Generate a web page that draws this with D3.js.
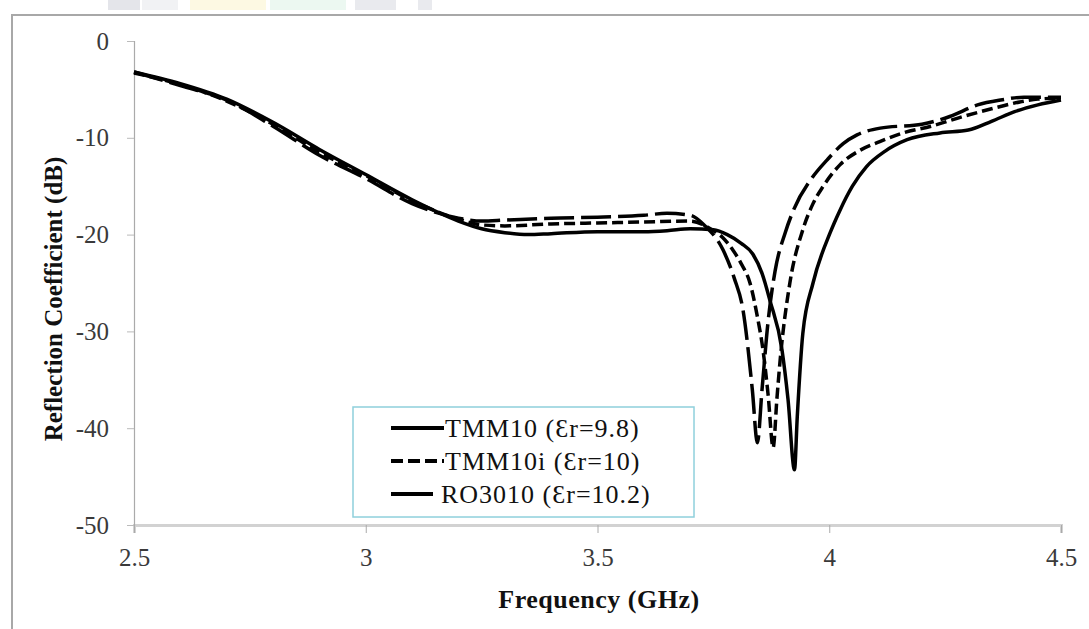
<!DOCTYPE html>
<html>
<head>
<meta charset="utf-8">
<script src="https://cdn.jsdelivr.net/npm/d3@7"></script>
<style>
  body { margin: 0; background: #fff; }
  svg { display: block; }
  svg text { font-family: "Liberation Serif", "Times New Roman", serif; }
</style>
</head>
<body>
<svg id="chart" width="1089" height="629"></svg>
<script>
// reflection coefficient curves
var xTicks = [2.5, 3, 3.5, 4, 4.5];
var yTicks = [0, -10, -20, -30, -40, -50];
var seriesNames = ["TMM10 (\u0190r=9.8)", "TMM10i (\u0190r=10)", "RO3010 (\u0190r=10.2)"];

var tmm10Freq = [2.5, 2.6, 2.7, 2.8, 2.9, 3.0, 3.1, 3.2, 3.25, 3.3, 3.35, 3.4, 3.5, 3.6, 3.65, 3.7, 3.75, 3.78,
  3.81, 3.835, 3.855, 3.872, 3.898, 3.911, 3.925, 3.931, 3.943, 3.965, 4.002, 4.023, 4.05, 4.08, 4.12, 4.168,
  4.239, 4.3, 4.35, 4.4, 4.45, 4.5];
var tmm10Val = [-3.2, -4.4, -6.0, -8.4, -11.2, -13.8, -16.4, -18.6, -19.4, -19.8, -20.0, -19.9, -19.7, -19.7, -19.6, -19.4, -19.5, -20.0,
  -20.9, -22.0, -24.0, -26.8, -31.9, -37.0, -44.3, -38.8, -30.2, -25.0, -19.8, -17.5, -15.0, -13.0, -11.4, -10.2,
  -9.5, -9.2, -8.3, -7.3, -6.6, -6.1];

var tmm10iFreq = [2.5, 2.6, 2.7, 2.8, 2.9, 3.0, 3.1, 3.2, 3.25, 3.3, 3.4, 3.5, 3.6, 3.7, 3.74, 3.77, 3.792, 3.81,
  3.829, 3.845, 3.857, 3.868, 3.879, 3.887, 3.894, 3.915, 3.943, 3.965, 3.987, 4.023, 4.066, 4.109, 4.159, 4.22,
  4.289, 4.35, 4.411, 4.45, 4.5];
var tmm10iVal = [-3.3, -4.5, -6.2, -8.6, -11.5, -13.9, -16.5, -18.4, -19.0, -19.1, -18.9, -18.8, -18.7, -18.6, -19.3, -20.3, -21.6, -23.0,
  -25.0, -28.5, -31.9, -36.5, -42.0, -37.0, -33.0, -25.0, -19.5, -16.8, -15.0, -12.8, -11.3, -10.4, -9.5, -8.8,
  -7.8, -7.0, -6.3, -6.0, -5.9];

var ro3010Freq = [2.5, 2.6, 2.7, 2.8, 2.9, 3.0, 3.1, 3.2, 3.25, 3.3, 3.4, 3.5, 3.6, 3.65, 3.7, 3.73, 3.771, 3.795,
  3.814, 3.834, 3.845, 3.855, 3.868, 3.883, 3.905, 3.92, 3.965, 3.995, 4.03, 4.06, 4.11, 4.2, 4.26, 4.32,
  4.37, 4.42, 4.46, 4.5];
var ro3010Val = [-3.2, -4.6, -6.1, -8.8, -11.8, -14.2, -16.8, -18.3, -18.6, -18.5, -18.3, -18.2, -18.0, -17.8, -18.0, -19.0, -21.6, -24.5,
  -27.8, -36.0, -41.5, -36.0, -29.0, -23.8, -19.8, -17.8, -14.0, -12.3, -10.6, -9.7, -9.0, -8.6, -7.8, -6.6,
  -6.1, -5.8, -5.8, -5.8];

var svg = d3.select("#chart");

// faint banner strip at top edge
var banner = [[108, 140, "#c9ccd6"], [142, 178, "#e3e5ea"], [190, 266, "#fbf3c8"], [270, 346, "#d9f1e4"], [355, 396, "#d3d6de"], [418, 432, "#d3d6de"]];
svg.selectAll("rect.banner").data(banner).enter().append("rect")
  .attr("class", "banner")
  .attr("x", function(d){ return d[0]; })
  .attr("y", 0)
  .attr("width", function(d){ return d[1] - d[0]; })
  .attr("height", 10)
  .attr("fill", function(d){ return d[2]; })
  .attr("opacity", 0.5);

// outer frame
svg.append("rect")
  .attr("x", 12).attr("y", 15)
  .attr("width", 1100).attr("height", 640)
  .attr("fill", "none")
  .attr("stroke", "#a8a8a8")
  .attr("stroke-width", 2);

var x = d3.scaleLinear().domain([2.5, 4.5]).range([134, 1061]);
var y = d3.scaleLinear().domain([-50, 0]).range([525, 41]);

var fmt = function(d){ return String(d); };

var xAxis = svg.append("g")
  .attr("transform", "translate(0," + y(-50) + ")")
  .call(d3.axisBottom(x).tickValues(xTicks).tickSize(8).tickPadding(15).tickFormat(fmt));
xAxis.select("path.domain").attr("stroke", "#d2d2d2").attr("stroke-width", 3);
xAxis.selectAll(".tick line").attr("stroke", "#aaa");

var yAxis = svg.append("g")
  .attr("transform", "translate(" + x(2.5) + ",0)")
  .call(d3.axisLeft(y).tickValues(yTicks).tickSize(7).tickPadding(18).tickFormat(fmt));
yAxis.select("path.domain").attr("stroke", "#aaa").attr("stroke-width", 1.2);
yAxis.selectAll(".tick line").attr("stroke", "#bbb");

svg.selectAll(".tick text")
  .style("font-family", "'Liberation Serif', serif")
  .style("font-size", "25px")
  .attr("fill", "#3a3a3a");
xAxis.selectAll(".tick text").attr("dy", "0.71em");

// axis titles
svg.append("text")
  .attr("x", 599).attr("y", 608)
  .attr("text-anchor", "middle")
  .attr("font-weight", "bold")
  .attr("font-size", 26)
  .attr("letter-spacing", 0.5)
  .attr("fill", "#111")
  .text("Frequency (GHz)");

svg.append("text")
  .attr("transform", "translate(62,299) rotate(-90)")
  .attr("text-anchor", "middle")
  .attr("font-weight", "bold")
  .attr("font-size", 25)
  .attr("fill", "#111")
  .text("Reflection Coefficient (dB)");

// curves
var dashes = [null, "11,5", "30,7"];
var series = [
  d3.zip(tmm10Freq, tmm10Val),
  d3.zip(tmm10iFreq, tmm10iVal),
  d3.zip(ro3010Freq, ro3010Val)
];
var line = d3.line()
  .x(function(d){ return x(d[0]); })
  .y(function(d){ return y(d[1]); })
  .curve(d3.curveMonotoneX);

svg.selectAll("path.curve").data(series).enter().append("path")
  .attr("class", "curve")
  .attr("d", line)
  .attr("fill", "none")
  .attr("stroke", "#000")
  .attr("stroke-width", 3.5)
  .attr("stroke-dasharray", function(d, i){ return dashes[i]; });

// legend
var legend = svg.append("g");
legend.append("rect")
  .attr("x", 353).attr("y", 407)
  .attr("width", 341).attr("height", 110)
  .attr("fill", "#fff")
  .attr("stroke", "#8fd0dc")
  .attr("stroke-width", 1.5);

var legendRows = [0, 1, 2];
var rowY = d3.scalePoint().domain(legendRows).range([428, 494]);
var sampleEnd = [444, 444, 433];
var legendDash = [null, "12,5", null];

legend.selectAll("line.sample").data(legendRows).enter().append("line")
  .attr("class", "sample")
  .attr("x1", 391)
  .attr("x2", function(d){ return sampleEnd[d]; })
  .attr("y1", function(d){ return rowY(d); })
  .attr("y2", function(d){ return rowY(d); })
  .attr("stroke", "#000")
  .attr("stroke-width", 4)
  .attr("stroke-dasharray", function(d){ return legendDash[d]; });

legend.selectAll("text.label").data(legendRows).enter().append("text")
  .attr("class", "label")
  .attr("x", function(d){ return d === 2 ? 441 : 445; })
  .attr("y", function(d){ return rowY(d) + 9; })
  .attr("font-size", 26)
  .attr("letter-spacing", 1)
  .attr("fill", "#111")
  .text(function(d){ return seriesNames[d]; });
</script>
</body>
</html>
